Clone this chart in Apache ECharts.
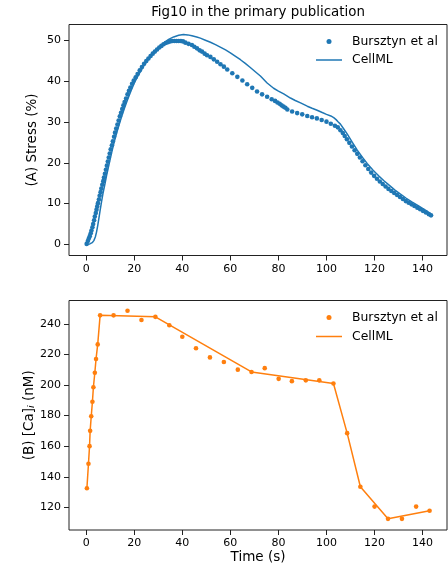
<!DOCTYPE html>
<html>
<head>
<meta charset="utf-8">
<script src="https://cdn.jsdelivr.net/npm/echarts@6/dist/echarts.min.js"></script>
<style>
html,body{margin:0;padding:0;background:#fff;}
#chart{width:448px;height:565px;}
</style>
</head>
<body>
<div id="chart"></div>
<script>
// ---- Data ----
var titleText = 'Fig10 in the primary publication';
var seriesNames = ['Bursztyn et al', 'CellML'];

// Panel A: experimental stress points
var stressTime = [0.2,0.7,1.1,1.5,1.9,2.2,2.6,2.9,3.3,3.6,4.0,4.3,4.6,4.9,5.3,5.6,6.0,6.3,6.7,7.1,7.4,7.8,8.2,8.6,9.0,9.4,9.8,10.2,10.7,11.1,11.6,12.0,12.5,13.0,13.5,14.0,14.5,15.0,15.5,16.0,16.6,17.2,17.8,18.4,19.1,19.8,20.6,21.4,22.3,23.2,24.1,25.0,25.9,26.8,27.7,28.6,29.5,30.4,31.3,32.2,33.1,34.0,34.9,35.8,36.7,37.6,38.5,39.4,40.3,41.3,42.6,44.0,45.0,46.1,47.2,48.2,49.3,50.3,51.7,53.1,54.5,55.9,57.3,58.7,60.8,62.9,65.0,67.0,69.1,71.1,73.2,75.3,77.2,78.6,79.6,80.5,81.3,82.1,82.9,83.7,85.7,87.8,89.9,92.0,94.0,96.0,98.0,100.0,101.8,103.5,104.7,105.8,106.8,107.6,108.5,109.5,110.6,111.7,112.8,113.9,115.0,116.2,117.4,118.6,119.8,121.0,122.2,123.4,124.6,125.8,127.0,128.2,129.4,130.6,131.8,133.0,134.2,135.4,136.6,137.8,139.0,140.2,141.4,142.6,143.5];
var stressValue = [0.1,0.8,1.4,2.0,2.7,3.4,4.2,5.0,5.9,6.8,7.7,8.5,9.3,10.1,11.0,11.9,12.8,13.7,14.6,15.5,16.4,17.3,18.3,19.3,20.3,21.3,22.3,23.3,24.3,25.3,26.4,27.4,28.4,29.4,30.4,31.4,32.3,33.2,34.1,34.9,35.8,36.8,37.7,38.5,39.4,40.2,41.0,41.8,42.7,43.5,44.3,45.0,45.6,46.2,46.8,47.3,47.8,48.3,48.7,49.1,49.4,49.6,49.8,49.9,49.9,49.9,49.9,49.9,49.8,49.5,49.2,48.9,48.5,48.1,47.6,47.3,46.8,46.4,46.0,45.4,44.8,44.2,43.6,42.9,42.0,41.1,40.2,39.3,38.4,37.5,36.8,36.2,35.6,35.2,34.8,34.5,34.1,33.8,33.5,33.1,32.6,32.2,31.9,31.5,31.2,30.9,30.5,30.1,29.6,29.1,28.7,28.0,27.3,26.6,25.8,24.9,24.0,23.1,22.2,21.3,20.4,19.4,18.5,17.6,16.8,16.1,15.4,14.8,14.2,13.6,13.1,12.6,12.1,11.6,11.1,10.6,10.2,9.8,9.4,9.0,8.6,8.2,7.8,7.4,7.1];

// Panel A: CellML model stress curve
var stressModelTime = [0,1.5,2.5,3.2,3.8,4.3,4.8,5.3,5.8,6.4,7.0,7.8,8.6,9.6,10.6,11.7,13.0,14.3,15.7,17.2,18.8,20.5,22.2,24.0,26.0,28.0,30.1,32.2,34.3,36.4,38.5,40.5,42.3,44.0,46.0,47.5,49.6,51.7,53.8,55.8,58.0,60.0,62.0,64.2,66.2,68.3,70.5,72.5,75.3,78.0,80.0,82.2,85.0,87.0,89.2,92.0,94.0,96.1,98.0,100.0,101.8,103.0,104.0,104.8,105.8,107.2,108.6,110.7,112.8,115.0,117.0,119.4,121.7,123.9,126.3,128.5,130.8,133.2,135.5,137.8,140.0,142.0,143.9];
var stressModelValue = [0,0.1,0.4,0.9,1.8,3.0,4.6,6.4,8.3,10.5,12.5,14.8,17.2,19.9,22.5,25.2,28.0,30.5,33.0,35.5,37.9,40.2,42.0,43.8,45.5,47.0,48.3,49.4,50.3,50.9,51.3,51.5,51.4,51.2,50.9,50.6,50.1,49.6,49.0,48.4,47.7,47.0,46.2,45.3,44.4,43.4,42.3,41.3,39.6,38.3,37.6,36.9,35.9,35.3,34.7,33.9,33.4,32.9,32.4,31.9,31.5,31.1,30.6,30.1,29.5,28.3,27.1,25.1,23.1,21.3,19.8,18.2,16.8,15.6,14.4,13.3,12.3,11.3,10.4,9.6,8.8,8.1,7.2];

// Panel B: experimental [Ca]i points
var caTime = [0.3,0.95,1.4,1.65,2.1,2.6,3.0,3.6,4.1,4.8,5.8,11.4,17.2,23.0,28.8,34.6,40.0,45.7,51.5,57.3,63.1,68.8,74.3,80.1,85.6,91.4,97.0,102.9,108.6,114.1,120.0,125.6,131.4,137.3,142.9];
var caValue = [132.5,148.5,160,170,179.5,189,198.5,208,217,226.5,245.5,245.5,248.5,242.5,244.5,239,231.5,224,218,215,210,208.5,211,204,202.5,203,203,201,168.5,133.5,120.5,112.5,112.5,120.5,117.8];

// Panel B: CellML model [Ca]i curve
var caModelTime = [0.3,0.95,1.4,1.65,2.1,2.6,3.0,3.6,4.1,4.8,5.8,28.8,68.8,102.9,108.6,114.1,125.6,142.9];
var caModelValue = [132.5,148.5,160,170,179.5,189,198.5,208,217,226.5,245.5,244.5,208.5,201,168.5,133.5,112.5,117.8];

// Tick labels
var timeTicks = [0,20,40,60,80,100,120,140];
var stressTicks = [0,10,20,30,40,50];
var caTicks = [120,140,160,180,200,220,240];

// Axis labels
var xLabel = 'Time (s)';
var yLabelA = '(A) Stress (%)';
var yLabelB = '(B) [Ca]{sub|i} (nM)';

// ---- Build chart ----
function zip(a, b) { return a.map(function (v, i) { return [v, b[i]]; }); }

var BLUE = '#1f77b4', ORANGE = '#ff7f0e', FONT = 'DejaVu Sans', INK = '#000', SPINE = '#222';

function xAxis(gridIndex, withName) {
  return {
    type: 'value', gridIndex: gridIndex, min: -7.15, max: 150.15,
    axisLine: { show: false, onZero: false },
    axisTick: { show: true, length: 5, lineStyle: { color: SPINE, width: 1 }, customValues: timeTicks.slice() },
    axisLabel: { color: INK, fontFamily: FONT, fontSize: 11, customValues: timeTicks.slice() },
    splitLine: { show: false },
    name: withName ? xLabel : '', nameLocation: 'middle', nameGap: 20, nameMoveOverlap: false,
    nameTextStyle: { color: INK, fontFamily: FONT, fontSize: 13.5 }
  };
}
function yAxis(gridIndex, min, max, ticks, name, gap) {
  return {
    type: 'value', gridIndex: gridIndex, min: min, max: max,
    axisLine: { show: false, onZero: false },
    axisTick: { show: true, length: 5, lineStyle: { color: SPINE, width: 1 }, customValues: ticks.slice() },
    axisLabel: { color: INK, fontFamily: FONT, fontSize: 11, customValues: ticks.slice() },
    splitLine: { show: false },
    name: name, nameLocation: 'middle', nameRotate: 90, nameGap: gap, nameMoveOverlap: false,
    nameTextStyle: { color: INK, fontFamily: FONT, fontSize: 13.5,
      rich: { sub: { fontFamily: FONT, fontSize: 9.5, fontStyle: 'italic', color: INK, padding: [6, 0, 0, 0] } } }
  };
}
function legend(name, label, left, top, icon, w, h, pad) {
  return {
    data: [{ name: name, icon: icon }], left: left, top: top, padding: 0,
    itemWidth: w, itemHeight: h, selectedMode: false,
    formatter: function () { return '{p| }{t|' + label + '}'; },
    textStyle: { color: INK, fontFamily: FONT, fontSize: 12.4,
      rich: { p: { width: pad, fontSize: 12.4, fontFamily: FONT }, t: { fontSize: 12.4, fontFamily: FONT, color: INK } } }
  };
}

var option = {
  animation: false,
  backgroundColor: '#fff',
  title: {
    text: titleText, left: 258, top: 6, padding: 0, textAlign: 'center',
    textStyle: { color: INK, fontFamily: FONT, fontSize: 13.4, fontWeight: 'normal' }
  },
  grid: [
    { left: 69, top: 24.5, width: 378, height: 231, show: true, borderColor: SPINE, borderWidth: 1 },
    { left: 69, top: 300.5, width: 378, height: 230.5, show: true, borderColor: SPINE, borderWidth: 1 }
  ],
  xAxis: [xAxis(0, false), xAxis(1, true)],
  yAxis: [
    yAxis(0, -2.75, 53.95, stressTicks, yLabelA, 30),
    yAxis(1, 105.2, 255.2, caTicks, yLabelB, 32)
  ],
  legend: [
    legend(seriesNames[0] + ' [A]', seriesNames[0], 326.5, 35.5, 'circle', 5, 5, 15.5),
    legend(seriesNames[1] + ' [A]', seriesNames[1], 316, 54, 'rect', 26, 1.5, 5),
    legend(seriesNames[0] + ' [B]', seriesNames[0], 326.5, 311.5, 'circle', 5, 5, 15.5),
    legend(seriesNames[1] + ' [B]', seriesNames[1], 316, 330.5, 'rect', 26, 1.5, 5)
  ],
  series: [
    { name: seriesNames[0] + ' [A]', type: 'scatter', xAxisIndex: 0, yAxisIndex: 0,
      data: zip(stressTime, stressValue), symbol: 'circle', symbolSize: 4.6,
      itemStyle: { color: BLUE, opacity: 1 } },
    { name: seriesNames[1] + ' [A]', type: 'line', xAxisIndex: 0, yAxisIndex: 0,
      data: zip(stressModelTime, stressModelValue), showSymbol: false, symbol: 'none',
      lineStyle: { color: BLUE, width: 1.5 }, itemStyle: { color: BLUE } },
    { name: seriesNames[0] + ' [B]', type: 'scatter', xAxisIndex: 1, yAxisIndex: 1,
      data: zip(caTime, caValue), symbol: 'circle', symbolSize: 4.6,
      itemStyle: { color: ORANGE, opacity: 1 } },
    { name: seriesNames[1] + ' [B]', type: 'line', xAxisIndex: 1, yAxisIndex: 1,
      data: zip(caModelTime, caModelValue), showSymbol: false, symbol: 'none',
      lineStyle: { color: ORANGE, width: 1.5 }, itemStyle: { color: ORANGE } }
  ]
};

echarts.init(document.getElementById('chart'), null, { renderer: 'canvas' }).setOption(option);
</script>
</body>
</html>
